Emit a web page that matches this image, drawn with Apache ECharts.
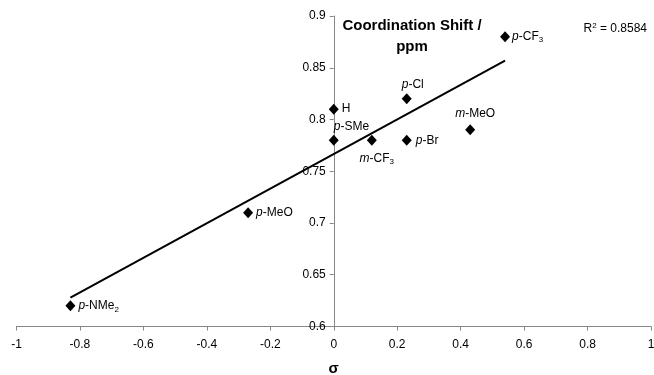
<!DOCTYPE html>
<html>
<head>
<meta charset="utf-8">
<script src="https://cdn.jsdelivr.net/npm/echarts@6/dist/echarts.min.js"></script>
<style>
  html, body { margin: 0; padding: 0; background: #fff; }
  #main { width: 654px; height: 375px; }
</style>
</head>
<body>
<div id="main"></div>
<script>
var names = ['p-CF3', 'p-Cl', 'H', 'm-MeO', 'p-SMe', 'm-CF3', 'p-Br', 'p-MeO', 'p-NMe2'];
var sigma = [0.54, 0.23, 0, 0.43, 0, 0.12, 0.23, -0.27, -0.83];
var shift = [0.88, 0.82, 0.81, 0.79, 0.78, 0.78, 0.78, 0.71, 0.62];
var trendX = [-0.83, 0.54];
var trendY = [0.628, 0.857];
var rSquared = '0.8584';

var font = 'Liberation Sans, Arial, sans-serif';
var gridLeft = 16.5, gridRight = 3;
// y axis crosses at sigma = 0, i.e. middle of the plot
var yOffset = -(654 - gridLeft - gridRight) / 2;

// where each point label sits
var labelCfg = {
    'p-CF3': { position: 'right', distance: 2 },
    'p-Cl': { position: 'top', distance: 3, offset: [6, 0] },
    'H': { position: 'right', distance: 3 },
    'm-MeO': { position: 'top', distance: 5, offset: [5, 0] },
    'p-SMe': { position: 'top', distance: 2, align: 'left' },
    'm-CF3': { position: 'bottom', distance: 5, offset: [5, 0] },
    'p-Br': { position: 'right', distance: 4 },
    'p-MeO': { position: 'right', distance: 3 },
    'p-NMe2': { position: 'right', distance: 3 }
};

function richName(n) {
    var s = n;
    var out = '';
    var m = s.match(/^([pm])-(.*)$/);
    if (m) {
        out += '{i|' + m[1] + '}-';
        s = m[2];
    }
    var d = s.match(/^(.*?)(\d)$/);
    if (d) {
        out += d[1] + '{s|' + d[2] + '}';
    } else {
        out += s;
    }
    return out;
}

var pts = names.map(function (n, i) {
    var c = labelCfg[n];
    return {
        name: n,
        value: [sigma[i], shift[i]],
        label: {
            show: true,
            position: c.position,
            distance: c.distance,
            offset: c.offset || [0, 0],
            align: c.align,
            formatter: richName(n)
        }
    };
});

var chart = echarts.init(document.getElementById('main'));

chart.setOption({
    animation: false,
    title: [{
        text: 'Coordination Shift /\nppm',
        left: 407,
        top: 10,
        textAlign: 'center',
        textStyle: { fontFamily: font, fontSize: 15, fontWeight: 'bold', color: '#000', lineHeight: 21 }
    }, {
        text: 'R{sup|2} = ' + rSquared,
        right: 2,
        top: 17,
        textStyle: {
            fontFamily: font, fontSize: 12, fontWeight: 'normal', color: '#000',
            rich: {
                sup: { fontSize: 8, fontWeight: 'normal', verticalAlign: 'top', fontFamily: font, color: '#000', padding: [0, 0, 5, 0] }
            }
        }
    }],
    grid: { left: gridLeft, right: gridRight, top: 16, bottom: 48.5, containLabel: false, outerBoundsMode: 'none' },
    xAxis: {
        type: 'value',
        min: -1, max: 1, interval: 0.2,
        name: 'σ',
        nameLocation: 'middle',
        nameGap: 35,
        nameTextStyle: { fontFamily: font, fontSize: 15, fontWeight: 'bold', color: '#000' },
        splitLine: { show: false },
        axisLine: { onZero: false, lineStyle: { color: '#868686', width: 1 } },
        axisTick: { show: true, length: 4, lineStyle: { color: '#868686' } },
        axisLabel: {
            fontFamily: font, fontSize: 12, color: '#000', margin: 12,
            formatter: function (v) { return String(Math.round(v * 10) / 10); }
        }
    },
    yAxis: {
        type: 'value',
        min: 0.6, max: 0.9, interval: 0.05,
        offset: yOffset,
        splitLine: { show: false },
        axisLine: { show: true, onZero: false, lineStyle: { color: '#868686', width: 1 } },
        axisTick: { show: true, length: 4, lineStyle: { color: '#868686' } },
        axisLabel: {
            fontFamily: font, fontSize: 12, color: '#000', margin: 8,
            formatter: function (v) { return String(Math.round(v * 100) / 100); }
        }
    },
    series: [{
        type: 'line',
        data: trendX.map(function (x, i) { return [x, trendY[i]]; }),
        symbol: 'none',
        lineStyle: { color: '#000', width: 2 },
        z: 1,
        silent: true
    }, {
        type: 'scatter',
        data: pts,
        symbol: 'diamond',
        symbolSize: [10, 11],
        itemStyle: { color: '#000', opacity: 1 },
        z: 3,
        label: {
            fontFamily: font, fontSize: 12, color: '#000',
            rich: {
                i: { fontFamily: font, fontSize: 12, fontStyle: 'italic', color: '#000' },
                s: { fontFamily: font, fontSize: 8, color: '#000', verticalAlign: 'bottom', padding: [7, 0, 0, 0] }
            }
        }
    }]
});
</script>
</body>
</html>
